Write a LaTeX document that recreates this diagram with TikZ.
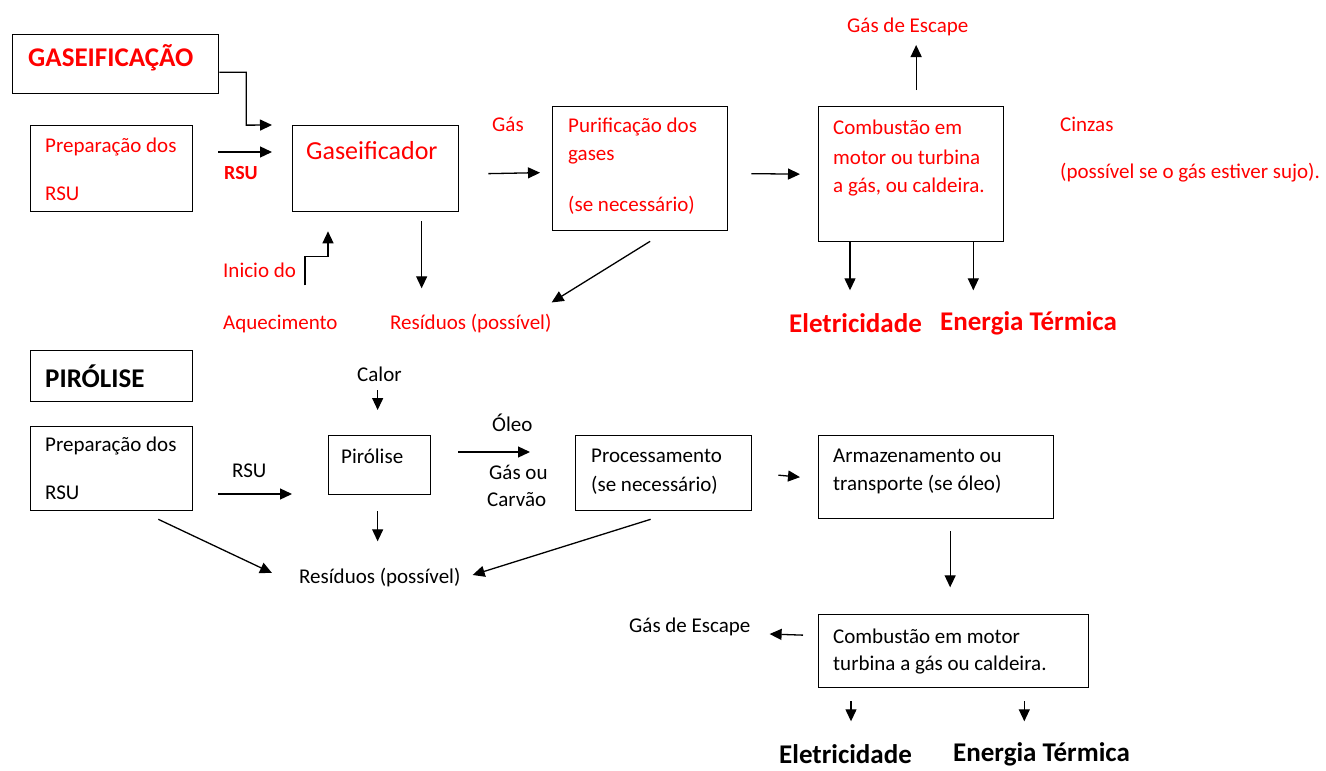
\documentclass[tikz,border=0pt]{standalone}
\usepackage{fontspec}
\setmainfont{Carlito}
\usetikzlibrary{arrows.meta}

\tikzset{
    box/.style={draw, line width=1.3pt, anchor=north west, inner sep=0pt},
    txt/.style={anchor=west, inner sep=0pt, font=\fontsize{21}{25}\selectfont},
    head/.style={anchor=west, inner sep=0pt, font=\fontsize{27}{31}\selectfont\bfseries},
    arr/.style={line width=1.3pt, -{Triangle[length=12pt,width=11pt]}},
}

\begin{document}
\begin{tikzpicture}[x=1pt, y=-1pt]
    \useasboundingbox (0,0) rectangle (1326,771);

    % Draw nodes (gaseificacao)
    \node[box, minimum width=206, minimum height=59] (gasT) at (12,34) {};
    \node[head, red] (gasTt) at (28,58) {GASEIFICAÇÃO};
    \node[box, minimum width=162, minimum height=86] (prepG) at (30,125) {};
    \node[txt, red] (prepGa) at (45,147) {Preparação dos};
    \node[txt, red] (prepGb) at (45,194) {RSU};
    \node[txt, red, font=\fontsize{20}{24}\selectfont\bfseries] (rsuG) at (224,173) {RSU};
    \node[box, minimum width=166, minimum height=86] (gasf) at (292,125) {};
    \node[txt, red, font=\fontsize{26}{30}\selectfont] (gasft) at (306,151) {Gaseificador};
    \node[txt, red] (iniA) at (223,270) {Inicio do};
    \node[txt, red] (iniB) at (223,324) {Aquecimento};
    \node[txt, red] (resG) at (390,324) {Resíduos (possível)};
    \node[txt, red] (gasL) at (492,124) {Gás};
    \node[box, minimum width=175, minimum height=124] (puri) at (552,106) {};
    \node[txt, red] (puria) at (568,127) {Purificação dos};
    \node[txt, red] (purib) at (568,157) {gases};
    \node[txt, red] (puric) at (568,205) {(se necessário)};
    \node[box, minimum width=185, minimum height=135] (combG) at (818,106) {};
    \node[txt, red] (combGa) at (833,127) {Combustão em};
    \node[txt, red] (combGb) at (833,157) {motor ou turbina};
    \node[txt, red] (combGc) at (833,187) {a gás, ou caldeira.};
    \node[txt, red] (escG) at (847,27) {Gás de Escape};
    \node[txt, red] (cinz) at (1060,124) {Cinzas};
    \node[txt, red] (cinzb) at (1060,173) {(possível se o gás estiver sujo).};
    \node[head, red] (eleG) at (789,323) {Eletricidade};
    \node[head, red] (eneG) at (940,323) {Energia Térmica};

    % Draw nodes (pirolise)
    \node[box, minimum width=162, minimum height=51] (piroT) at (30,350) {};
    \node[head] (piroTt) at (45,376) {PIRÓLISE};
    \node[txt] (calor) at (357,374) {Calor};
    \node[box, minimum width=162, minimum height=84] (prepP) at (30,426) {};
    \node[txt] (prepPa) at (45,446) {Preparação dos};
    \node[txt] (prepPb) at (45,493) {RSU};
    \node[txt] (rsuP) at (232,471) {RSU};
    \node[box, minimum width=102, minimum height=59] (piro) at (328,435) {};
    \node[txt] (pirot) at (341,456) {Pirólise};
    \node[txt] (oleo) at (492,423) {Óleo};
    \node[txt] (gasou) at (489,472) {Gás ou};
    \node[txt] (carvao) at (487,500) {Carvão};
    \node[box, minimum width=176, minimum height=75] (proc) at (575,435) {};
    \node[txt] (proca) at (591,456) {Processamento};
    \node[txt] (procb) at (591,485) {(se necessário)};
    \node[txt] (resP) at (299,578) {Resíduos (possível)};
    \node[box, minimum width=235, minimum height=83] (arm) at (818,435) {};
    \node[txt] (arma) at (833,456) {Armazenamento ou};
    \node[txt] (armb) at (833,485) {transporte (se óleo)};
    \node[box, minimum width=270, minimum height=73] (combP) at (818,614) {};
    \node[txt] (combPa) at (833,636) {Combustão em motor};
    \node[txt] (combPb) at (833,665) {turbina a gás ou caldeira.};
    \node[txt] (escP) at (629,627) {Gás de Escape};
    \node[head] (eleP) at (779,754) {Eletricidade};
    \node[head] (eneP) at (953,754) {Energia Térmica};

    % Draw edges (gaseificacao)
    \draw[arr] ([shift={(0,8)}]gasT.east) -| ++(27,53) -- ([shift={(-20,0)}]gasf.north west);
    \draw[arr] ([shift={(25,27)}]prepG.north east) -- ([shift={(-20,27)}]gasf.north west);
    \draw[arr] ([shift={(13,73)}]gasf.south west) |- ++(23,-29) -- ++(0,-25);
    \draw[arr] ([shift={(46,9)}]gasf.south) -- ++(0,67);
    \draw[arr] ([shift={(29,5)}]gasf.east) -- ([shift={(-12,4)}]puri.west);
    \draw[arr] ([shift={(10,10)}]puri.south) -- ([shift={(0,-12)}]resG.north east);
    \draw[arr] ([shift={(23,5)}]puri.east) -- ([shift={(-18,0)}]combG.west);
    \draw[arr] ([shift={(5,-16)}]combG.north) -- ++(0,-45);
    \draw[arr] ([xshift=32]combG.south west) -- ++(0,48);
    \draw[arr] ([xshift=-31]combG.south east) -- ++(0,48);

    % Draw edges (pirolise)
    \draw[arr] ([shift={(-2,-45)}]piro.north) -- ++(0,20);
    \draw[arr] ([shift={(25,68)}]prepP.north east) -- ([shift={(-36,59)}]piro.north west);
    \draw[arr] ([shift={(27,17)}]piro.north east) -- ([shift={(-45,17)}]proc.north west);
    \draw[arr] ([shift={(-2,16)}]piro.south) -- ++(0,30);
    \draw[arr] ([shift={(-35,8)}]prepP.south east) -- ([shift={(-27,-5)}]resP.west);
    \draw[arr] ([shift={(-13,8)}]proc.south) -- ([shift={(12,-3)}]resP.east);
    \draw[arr] ([shift={(26,2)}]proc.east) -- ([shift={(-18,0)}]arm.west);
    \draw[arr] ([shift={(14,12)}]arm.south) -- ++(0,56);
    \draw[arr] ([shift={(-15,-16)}]combP.west) -- ([shift={(19,7)}]escP.east);
    \draw[arr] ([shift={(33,13)}]combP.south west) -- ++(0,20);
    \draw[arr] ([shift={(-65,13)}]combP.south east) -- ++(0,20);
\end{tikzpicture}
\end{document}
